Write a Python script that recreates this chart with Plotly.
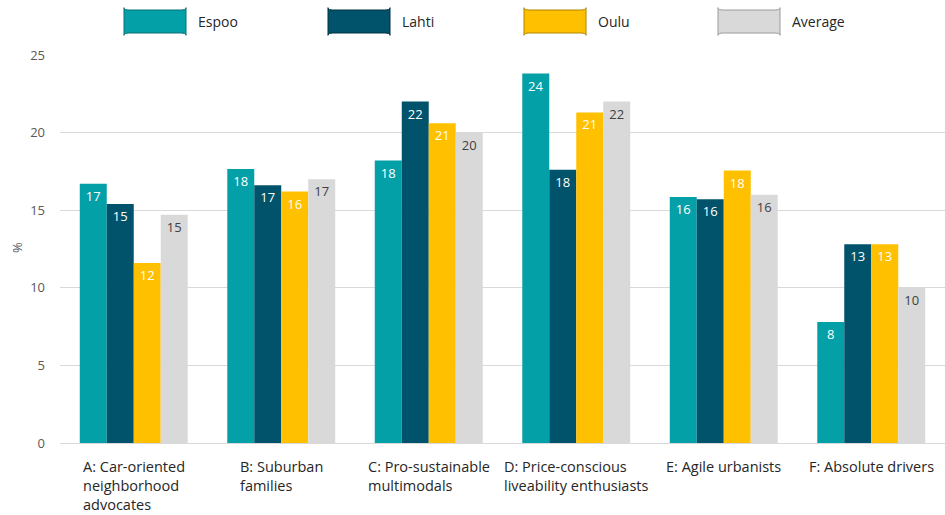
import plotly.graph_objects as go

categories = ["A", "B", "C", "D", "E", "F"]
category_labels = [
    "A: Car-oriented<br>neighborhood<br>advocates",
    "B: Suburban<br>families",
    "C: Pro-sustainable<br>multimodals",
    "D: Price-conscious<br>liveability enthusiasts",
    "E: Agile urbanists",
    "F: Absolute drivers",
]
series_names = ["Espoo", "Lahti", "Oulu", "Average"]
espoo = [16.7, 17.65, 18.2, 23.8, 15.85, 7.8]
lahti = [15.4, 16.6, 22.0, 17.6, 15.7, 12.8]
oulu = [11.6, 16.2, 20.6, 21.3, 17.55, 12.8]
average = [14.7, 17.0, 20.0, 22.0, 16.0, 10.0]
values = [espoo, lahti, oulu, average]
colors = ["#04A0A8", "#00536B", "#FFC000", "#D9D9D9"]
outlines = ["#0a6f74", "#003040", "#b08400", "#9a9a9a"]
text_colors = ["white", "white", "white", "#404040"]

FONT = "Open Sans"
W, H = 945, 515
L, R, T, B = 60, 0, 55, 72
PW, PH = W - L - R, H - T - B

fig = go.Figure()
for name, vals, c, tc in zip(series_names, values, colors, text_colors):
    fig.add_trace(go.Bar(
        x=categories, y=vals, name=name,
        marker=dict(color=c, line=dict(width=0)),
        text=[f"{round(v)}" for v in vals],
        textposition="inside", insidetextanchor="end", textangle=0,
        constraintext="none",
        textfont=dict(color=tc, size=13, family=FONT),
        showlegend=False,
    ))

def px_x(p):
    return (p - L) / PW

def px_y(p):
    return (H - B - p) / PH

def rounded(x0, y0, x1, y1, r=4):
    return (f"M{x0+r},{y0} L{x1-r},{y0} Q{x1},{y0} {x1},{y0+r} "
            f"L{x1},{y1-r} Q{x1},{y1} {x1-r},{y1} L{x0+r},{y1} "
            f"Q{x0},{y1} {x0},{y1-r} L{x0},{y0+r} Q{x0},{y0} {x0+r},{y0} Z")

shapes = []
annotations = []
legend_x = [124, 328, 524, 718]
for lx, name, c, oc in zip(legend_x, series_names, colors, outlines):
    shapes.append(dict(type="path", xref="paper", yref="paper",
                       path=rounded(px_x(lx), px_y(10), px_x(lx + 62), px_y(33), r=0.006),
                       fillcolor=c, line=dict(color=oc, width=1), layer="above"))
    annotations.append(dict(x=px_x(lx + 72), y=px_y(21.5), xref="paper", yref="paper",
                            text=name, showarrow=False, xanchor="left", yanchor="middle",
                            font=dict(size=14, color="#262626", family=FONT)))

for cat, lab in zip(categories, category_labels):
    annotations.append(dict(x=cat, y=px_y(455), xref="x", yref="paper", text=lab,
                            showarrow=False, xanchor="center", yanchor="top", align="left",
                            font=dict(size=14.5, color="#262626", family=FONT)))

annotations.append(dict(x=px_x(17), y=px_y(248), xref="paper", yref="paper", text="%",
                        showarrow=False, textangle=-90, xanchor="center", yanchor="middle",
                        font=dict(size=13, color="#595959", family=FONT)))

fig.update_layout(
    width=W, height=H,
    margin=dict(l=L, r=R, t=T, b=B),
    paper_bgcolor="white", plot_bgcolor="white",
    barmode="group", bargap=0.268, bargroupgap=0,
    font=dict(family=FONT),
    shapes=shapes, annotations=annotations,
    xaxis=dict(showticklabels=False, showgrid=False, zeroline=False, showline=False, ticks=""),
    yaxis=dict(range=[0, 25], dtick=5, showgrid=True, gridcolor="#D9D9D9", gridwidth=1,
               zeroline=True, zerolinecolor="#D9D9D9", zerolinewidth=1,
               showline=False, ticks="", ticklabelstandoff=14,
               tickfont=dict(size=13, color="#595959", family=FONT)),
)

fig.write_html("out.html")
